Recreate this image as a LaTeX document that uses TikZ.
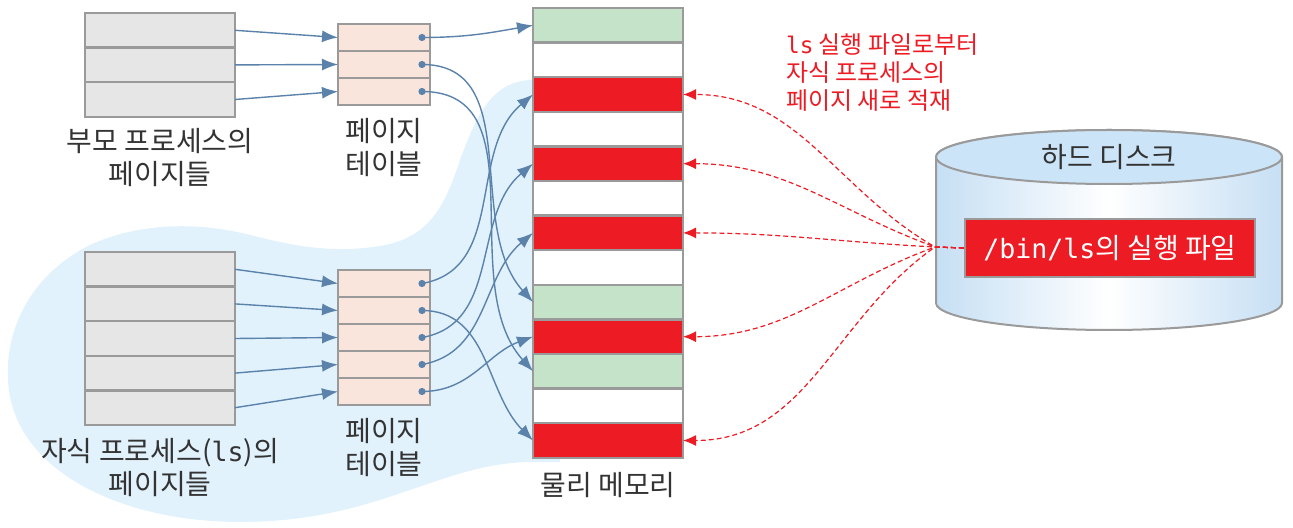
\documentclass[tikz,border=0pt]{standalone}
\usepackage{fontspec}
\setmainfont{Noto Sans CJK KR}
\newfontfamily\monofont{DejaVu Sans Mono}[Scale=0.95]
\usetikzlibrary{positioning,arrows.meta}

\definecolor{pagegray}{HTML}{E6E6E6}
\definecolor{boxline}{HTML}{9A9A9A}
\definecolor{tablepeach}{HTML}{FAE5DC}
\definecolor{memgreen}{HTML}{C5E3C8}
\definecolor{memred}{HTML}{ED1C24}
\definecolor{childblue}{HTML}{E1F2FD}
\definecolor{linkblue}{HTML}{5B82AA}
\definecolor{diskblue}{HTML}{C6DFF4}
\definecolor{disktop}{HTML}{CCE4F7}
\definecolor{labelgray}{HTML}{333333}

\tikzset{
  page/.style={draw=boxline, line width=1.2pt, fill=pagegray, minimum width=75pt,
    minimum height=17.3pt, inner sep=0pt, outer sep=0pt},
  entry/.style={page, fill=tablepeach, minimum width=46pt, minimum height=13.5pt},
  memcell/.style={page, fill=#1},
  memcell/.default=white,
  lbl/.style={font=\fontsize{14pt}{16.5pt}\selectfont, text=labelgray, align=center},
  link/.style={draw=linkblue, line width=0.7pt, -{Latex[length=8pt,width=6pt]}},
  load/.style={draw=memred, line width=0.6pt, dash pattern=on 2.5pt off 1.5pt,
    -{Latex[length=6.5pt,width=5.5pt]}},
}

\begin{document}
\begin{tikzpicture}[x=0.5pt, y=-0.5pt]
    \useasboundingbox (0,0) rectangle (1293,528);

    % child process area
    \fill[childblue] (560,80) -- (533,80) .. controls (490,80) and (475,120) .. (460,160)
        .. controls (445,205) and (430,238) .. (380,246)
        .. controls (330,254) and (290,245) .. (250,235)
        .. controls (200,222) and (140,222) .. (90,245)
        .. controls (30,275) and (5,330) .. (8,380)
        .. controls (12,470) and (120,522) .. (240,522)
        .. controls (380,522) and (440,462) .. (533,462) -- (560,462) -- cycle;

    % parent pages
    \node[page] (P1) at (160, 30.3) {};
    \node[page] (P2) at (160, 64.9) {};
    \node[page] (P3) at (160, 99.5) {};
    \node[lbl] (title_P) at (160, 158) {부모 프로세스의\\페이지들};

    % parent page table
    \node[entry] (PT1) at (384, 37.5) {};
    \node[entry] (PT2) at (384, 64.5) {};
    \node[entry] (PT3) at (384, 91.5) {};
    \node[lbl] (title_PT) at (384, 148) {페이지\\테이블};

    % child pages
    \node[page] (C1) at (160, 269.3) {};
    \node[page] (C2) at (160, 303.9) {};
    \node[page] (C3) at (160, 338.5) {};
    \node[page] (C4) at (160, 373.1) {};
    \node[page] (C5) at (160, 407.7) {};
    \node[lbl] (title_C) at (160, 468) {자식 프로세스({\monofont ls})의\\페이지들};

    % child page table
    \node[entry] (CT1) at (384, 283.5) {};
    \node[entry] (CT2) at (384, 310.5) {};
    \node[entry] (CT3) at (384, 337.5) {};
    \node[entry] (CT4) at (384, 364.5) {};
    \node[entry] (CT5) at (384, 391.5) {};
    \node[lbl] (title_CT) at (384, 448) {페이지\\테이블};

    % physical memory
    \node[memcell=memgreen] (M1) at (608, 25.3) {};
    \node[memcell] (M2) at (608, 59.9) {};
    \node[memcell=memred] (M3) at (608, 94.5) {};
    \node[memcell] (M4) at (608, 129.1) {};
    \node[memcell=memred] (M5) at (608, 163.7) {};
    \node[memcell] (M6) at (608, 198.3) {};
    \node[memcell=memred] (M7) at (608, 232.9) {};
    \node[memcell] (M8) at (608, 267.5) {};
    \node[memcell=memgreen] (M9) at (608, 302.1) {};
    \node[memcell=memred] (M10) at (608, 336.7) {};
    \node[memcell=memgreen] (M11) at (608, 371.3) {};
    \node[memcell] (M12) at (608, 405.9) {};
    \node[memcell=memred] (M13) at (608, 440.5) {};
    \node[lbl] (title_M) at (608, 485) {물리 메모리};

    % hard disk
    \shade[left color=diskblue, right color=diskblue, middle color=white, draw=boxline, line width=1pt]
        (936,157) -- (936,303) arc[start angle=180, end angle=360, x radius=86.5pt, y radius=13.5pt]
        -- (1282,157) arc[start angle=0, end angle=180, x radius=86.5pt, y radius=13.5pt] -- cycle;
    \draw[boxline, fill=disktop, line width=1pt] (1109,157) ellipse[x radius=86.5pt, y radius=13.5pt];
    \node[lbl] (title_D) at (1109, 157) {하드 디스크};
    \node[draw=boxline, line width=1.2pt, fill=memred, text=white, minimum width=145pt,
        minimum height=29pt, inner sep=0pt, font=\fontsize{14pt}{16.5pt}\selectfont]
        (file) at (1110, 248) {{\monofont /bin/ls}의 실행 파일};
    \coordinate (fan) at (935, 247);

    \node[font=\fontsize{12pt}{14pt}\selectfont, text=memred, align=left, anchor=west]
        (note) at (779, 73) {{\monofont ls} 실행 파일로부터\\자식 프로세스의\\페이지 새로 적재};

    % pages -> page tables
    \draw[link] (P1.east) -- (PT1.west);
    \draw[link] (P2.east) -- (PT2.west);
    \draw[link] (P3.east) -- (PT3.west);
    \draw[link] (C1.east) -- (CT1.west);
    \draw[link] (C2.east) -- (CT2.west);
    \draw[link] (C3.east) -- (CT3.west);
    \draw[link] (C4.east) -- (CT4.west);
    \draw[link] (C5.east) -- (CT5.west);

    % page tables -> frames
    \foreach \t in {PT1,PT2,PT3,CT1,CT2,CT3,CT4,CT5}
        \fill[linkblue] ([xshift=-4pt]\t.east) coordinate (\t d) circle (1.8pt);
    \draw[link] (PT1d) to[out=0, in=190] (M1.west);
    \draw[link] (PT2d) to[out=0, in=132] (M9.west);
    \draw[link] (PT3d) to[out=0, in=132] (M11.west);
    \draw[link] (CT1d) to[out=10, in=220] (M3.west);
    \draw[link] (CT2d) to[out=0, in=135] (M13.west);
    \draw[link] (CT3d) to[out=10, in=220] (M5.west);
    \draw[link] (CT4d) to[out=10, in=220] (M7.west);
    \draw[link] (CT5d) to[out=0, in=200] (M10.west);

    % disk -> new frames
    \draw[load] (file.west) -- (fan) to[out=150, in=0] (M3.east);
    \draw[load] (file.west) -- (fan) to[out=160, in=0] (M5.east);
    \draw[load] (file.west) -- (fan) to[out=177, in=0] (M7.east);
    \draw[load] (file.west) -- (fan) to[out=200, in=0] (M10.east);
    \draw[load] (file.west) -- (fan) to[out=215, in=0] (M13.east);
\end{tikzpicture}
\end{document}
